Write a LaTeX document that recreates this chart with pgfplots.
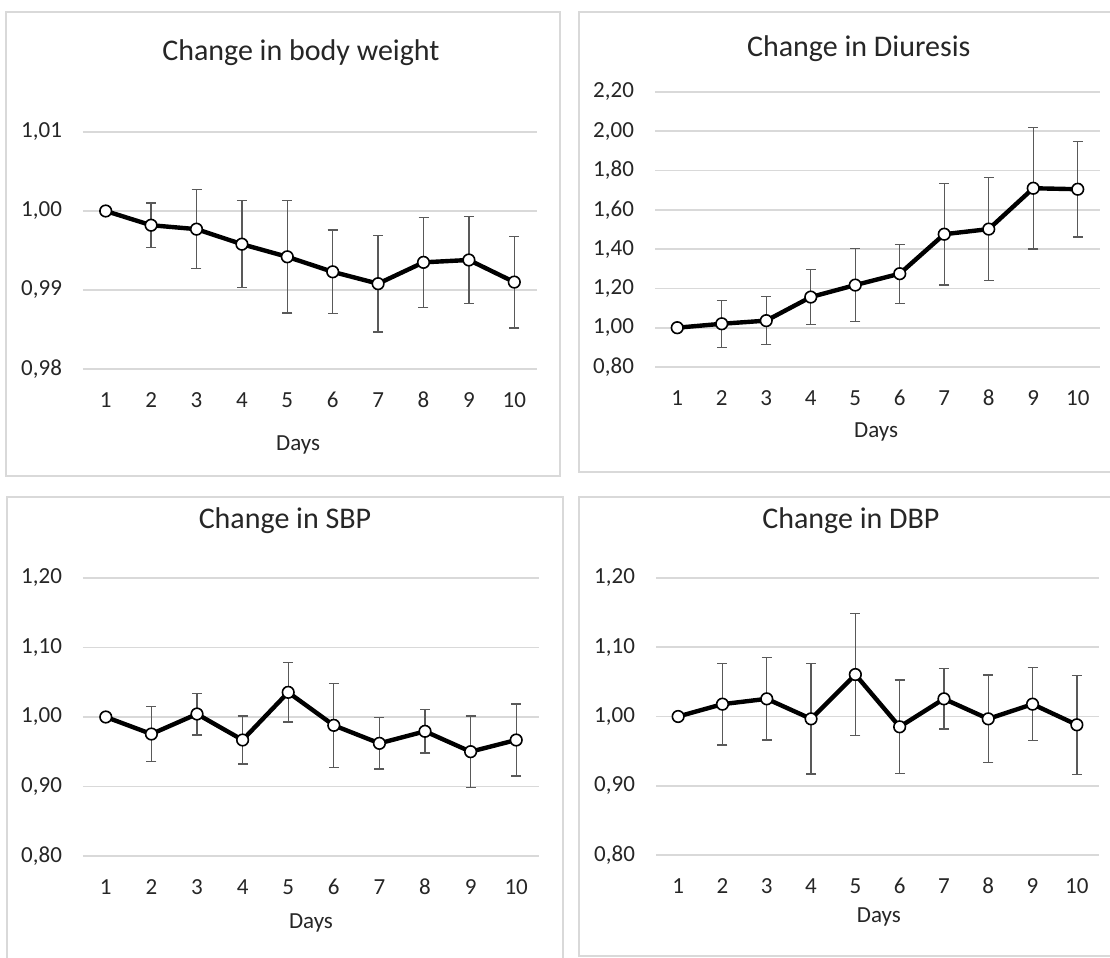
\documentclass[border=0pt]{standalone}
\usepackage{fontspec}
\setmainfont{Carlito}
\usepackage{pgfplots}
\pgfplotsset{compat=1.18}
\definecolor{gridc}{HTML}{D9D9D9}
\definecolor{framec}{HTML}{D9D9D9}
\definecolor{errc}{HTML}{595959}
\pgfplotsset{panel/.style={
  scale only axis, anchor=south west,
  xmin=0.5, xmax=10.5, xtick={1,...,10},
  axis line style={draw=none},
  major tick length=0pt,
  ymajorgrids, grid style={gridc, line width=0.9pt},
  /pgf/number format/assume math mode=true,
  tick label style={font=\fontsize{11.5}{13}\selectfont, text=black!85},
  yticklabel style={anchor=east, xshift=-7pt, /pgf/number format/fixed, /pgf/number format/fixed zerofill, /pgf/number format/precision=2, /pgf/number format/use comma},
  xticklabel style={anchor=center, yshift=-15.5pt},
  title style={anchor=center, font=\fontsize{15}{18}\selectfont, text=black!85},
  xlabel style={anchor=center, font=\fontsize{11.5}{13}\selectfont, text=black!85},
  xlabel={Days},
  clip=false,
},
ser/.style={black, line width=2.2pt, mark=*, mark size=2.9pt,
  mark options={fill=white, draw=black, line width=0.8pt},
  error bars/.cd, y dir=both, y explicit,
  error bar style={errc, line width=0.65pt},
  error mark options={rotate=90, errc, mark size=2.5pt, line width=0.65pt}}
}
\begin{document}
\begin{tikzpicture}
\useasboundingbox (0,0) rectangle (555pt,479pt);
\fill[white] (0,0) rectangle (555pt,479pt);
\draw[framec, line width=1pt] (3pt,241pt) rectangle (280pt,472.75pt);
\draw[framec, line width=1pt] (560pt,243pt) -- (289.5pt,243pt) -- (289.5pt,472.75pt) -- (560pt,472.75pt);
\draw[framec, line width=1pt] (3.5pt,-5pt) -- (3.5pt,230.5pt) -- (281.5pt,230.5pt) -- (281.5pt,-5pt);
\draw[framec, line width=1pt] (560pt,1pt) -- (289.5pt,1pt) -- (289.5pt,230.5pt) -- (560pt,230.5pt);

% Panel 1: body weight
\begin{axis}[panel, at={(41.5pt,294.5pt)}, width=227pt, height=118.5pt,
  ymin=0.98, ymax=1.01, ytick={0.98,0.99,1.00,1.01},
  title={Change in body weight},
  title style={at={(axis description cs:0.48,1)}, yshift=33.5pt},
  xlabel style={at={(axis description cs:0.474,0)}, yshift=-38pt}]
\addplot[ser] table[x=d, y=v, y error=e] {
d v e
1 1.0000 0
2 0.9982 0.0028
3 0.9977 0.0050
4 0.9958 0.0055
5 0.9942 0.0071
6 0.9923 0.0053
7 0.9908 0.0061
8 0.9935 0.0057
9 0.9938 0.0055
10 0.9910 0.0058
};
\end{axis}

% Panel 2: diuresis
\begin{axis}[panel, at={(327.5pt,295.5pt)}, width=222.5pt, height=137.5pt,
  ymin=0.8, ymax=2.2, ytick={0.8,1.0,1.2,1.4,1.6,1.8,2.0,2.2},
  title={Change in Diuresis},
  title style={at={(axis description cs:0.458,1)}, yshift=15.5pt},
  xlabel style={at={(axis description cs:0.497,0)}, yshift=-32.5pt}]
\addplot[ser] table[x=d, y=v, y error=e] {
d v e
1 1.000 0
2 1.020 0.120
3 1.036 0.123
4 1.156 0.141
5 1.217 0.185
6 1.275 0.150
7 1.476 0.258
8 1.502 0.262
9 1.710 0.310
10 1.705 0.243
};
\end{axis}

% Panel 3: SBP
\begin{axis}[panel, at={(41.5pt,51pt)}, width=228pt, height=139pt,
  ymin=0.8, ymax=1.2, ytick={0.8,0.9,1.0,1.1,1.2},
  title={Change in SBP},
  title style={at={(axis description cs:0.443,1)}, yshift=22.5pt},
  xlabel style={at={(axis description cs:0.5,0)}, yshift=-33.5pt}]
\addplot[ser] table[x=d, y=v, y error=e] {
d v e
1 1.0000 0
2 0.9755 0.0400
3 1.0043 0.0300
4 0.9669 0.0345
5 1.0355 0.0427
6 0.9880 0.0607
7 0.9621 0.0370
8 0.9794 0.0314
9 0.9501 0.0515
10 0.9669 0.0520
};
\end{axis}

% Panel 4: DBP
\begin{axis}[panel, at={(328pt,51.5pt)}, width=221.5pt, height=138.5pt,
  ymin=0.8, ymax=1.2, ytick={0.8,0.9,1.0,1.1,1.2},
  title={Change in DBP},
  title style={at={(axis description cs:0.44,1)}, yshift=22.5pt},
  xlabel style={at={(axis description cs:0.503,0)}, yshift=-31pt}]
\addplot[ser] table[x=d, y=v, y error=e] {
d v e
1 1.0000 0
2 1.0178 0.0590
3 1.0255 0.0596
4 0.9966 0.0796
5 1.0606 0.0885
6 0.9851 0.0678
7 1.0255 0.0435
8 0.9966 0.0633
9 1.0178 0.0527
10 0.9880 0.0714
};
\end{axis}
\end{tikzpicture}
\end{document}
